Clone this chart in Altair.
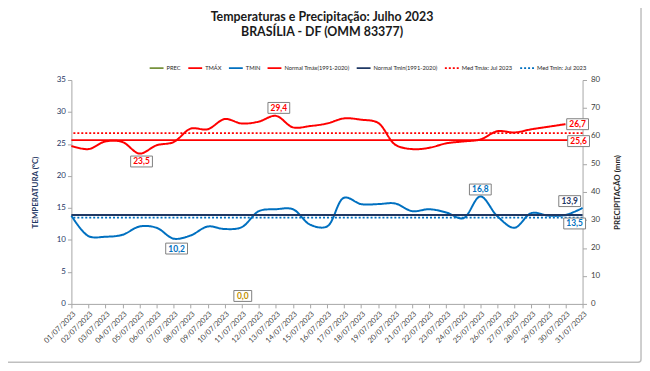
import altair as alt
import pandas as pd

dates = [f"{d:02d}/07/2023" for d in range(1, 32)]
tmax = [24.7, 24.2, 25.4, 25.3, 23.5, 24.8, 25.3, 27.4, 27.3, 28.9, 28.2, 28.5, 29.4, 27.6, 27.8, 28.2,
        29.0, 28.8, 28.3, 24.9, 24.2, 24.4, 25.1, 25.4, 25.7, 27.0, 26.8, 27.3, 27.7, 28.1, None]
tmin = [13.8, 10.6, 10.5, 10.8, 12.1, 11.9, 10.2, 10.7, 12.1, 11.7, 12.0, 14.5, 14.8, 14.8, 12.4, 12.1,
        16.6, 15.6, 15.6, 15.7, 14.5, 14.8, 14.3, 13.4, 16.8, 13.7, 11.9, 14.2, 13.8, 13.9, 15.0]
prec = [0.0] * 31
normal_tmax = 25.6
normal_tmin = 13.9
med_tmax = 26.7
med_tmin = 13.5
prec_label_day = "11/07/2023"

series_names = ["PREC", "TMÁX", "TMIN", "Normal Tmáx(1991-2020)", "Normal Tmin(1991-2020)",
                "Med Tmáx: Jul 2023", "Med Tmin: Jul 2023"]
series_colors = ["#76923c", "#ff0000", "#0070c0", "#ff0000", "#1f3864", "#ff0000", "#0070c0"]
series_dash = [[1, 0], [1, 0], [1, 0], [1, 0], [1, 0], [2, 2], [2, 2]]

FONT = "Lato"


def fmt(v):
    return f"{v:.1f}".replace(".", ",")


lines_df = pd.concat([
    pd.DataFrame({"date": dates, "value": tmax, "series": "TMÁX"}),
    pd.DataFrame({"date": dates, "value": tmin, "series": "TMIN"}),
]).dropna()
rules_df = pd.DataFrame({
    "value": [normal_tmax, normal_tmin, med_tmax, med_tmin],
    "series": ["Normal Tmáx(1991-2020)", "Normal Tmin(1991-2020)", "Med Tmáx: Jul 2023", "Med Tmin: Jul 2023"],
})
prec_df = pd.DataFrame({"date": dates, "prec": prec, "series": "PREC"})

xaxis = alt.Axis(title=None, labelAngle=-45, labelFontSize=7.5, labelColor="#404040",
                 labelFont=FONT, domainColor="#a6a6a6", tickColor="#a6a6a6", tickSize=4,
                 labelPadding=2)
xscale = alt.Scale(type="point", padding=0)


def X():
    return alt.X("date:O", sort=dates, scale=xscale, axis=xaxis)


color = alt.Color("series:N", scale=alt.Scale(domain=series_names, range=series_colors),
                  legend=alt.Legend(title=None))
dash = alt.StrokeDash("series:N", scale=alt.Scale(domain=series_names, range=series_dash),
                      legend=alt.Legend(title=None))
yleft = alt.Scale(domain=[0, 35])
yaxis_left = alt.Axis(title="TEMPERATURA (°C)", values=list(range(0, 36, 5)), grid=False,
                      titleFont=FONT, titleFontSize=8, titleFontWeight="bold", titleColor="#1f3864",
                      labelFont=FONT, labelFontSize=8, labelColor="#1f3864", domainColor="#a6a6a6",
                      tickColor="#a6a6a6", tickSize=4, titlePadding=17, labelOverlap=False)
yright = alt.Scale(domain=[0, 80])
yaxis_right = alt.Axis(title="PRECIPITAÇÃO (mm)", orient="right", values=list(range(0, 81, 10)),
                       grid=False, titleFont=FONT, titleFontSize=8, titleFontWeight="bold",
                       titleColor="#262626", titleAngle=270, labelFont=FONT, labelFontSize=8,
                       labelColor="#404040", domainColor="#a6a6a6", tickColor="#a6a6a6",
                       tickSize=4, titlePadding=22, labelPadding=4, labelOverlap=False)


def YL(field):
    return alt.Y(f"{field}:Q", scale=yleft, axis=yaxis_left)


def YR(field):
    return alt.Y(f"{field}:Q", scale=yright, axis=yaxis_right)


lines = alt.Chart(lines_df).mark_line(interpolate="catmull-rom", strokeWidth=2).encode(
    x=X(), y=YL("value"), color=color, strokeDash=dash)
rules = alt.Chart(rules_df).mark_rule(strokeWidth=1.8).encode(
    y=YL("value"), color=color, strokeDash=dash)


def label(df, txt_color, dx, dy, yfun, w=22, h=11):
    path = f"M-1,-{h / w:.3f}L1,-{h / w:.3f}L1,{h / w:.3f}L-1,{h / w:.3f}Z"
    base = alt.Chart(df).encode(x=X(), y=yfun("v"))
    box = base.mark_point(shape=path, size=w * w, fill="white", stroke="#7f7f7f", strokeWidth=1,
                          opacity=1, fillOpacity=1, xOffset=dx, yOffset=dy)
    txt = base.mark_text(font=FONT, fontSize=8.5, fontWeight="bold", color=txt_color,
                         dx=dx, dy=dy, baseline="middle", align="center").encode(text="label:N")
    return box + txt


temp_df = pd.DataFrame({"date": dates, "tmax": tmax, "tmin": tmin})
i_max_tmax = temp_df["tmax"].idxmax()
i_min_tmax = temp_df["tmax"].idxmin()
i_max_tmin = temp_df["tmin"].idxmax()
i_min_tmin = temp_df["tmin"].idxmin()


def one(date, val):
    return pd.DataFrame({"date": [date], "v": [val], "label": [fmt(val)]})


labels = [
    label(one(dates[i_min_tmax], tmax[i_min_tmax]), "#ff0000", 2, 8, YL),
    label(one(dates[i_max_tmax], tmax[i_max_tmax]), "#ff0000", 3, -8, YL),
    label(one(dates[i_min_tmin], tmin[i_min_tmin]), "#0070c0", 3, 10, YL),
    label(one(dates[i_max_tmin], tmin[i_max_tmin]), "#0070c0", 0, -7, YL),
    label(one(dates[-1], med_tmax), "#ff0000", -5, -9, YL),
    label(one(dates[-1], normal_tmax), "#ff0000", -4, 1, YL),
    label(one(dates[-1], normal_tmin), "#1f3864", -13, -14, YL),
    label(one(dates[-1], med_tmin), "#0070c0", -8, 6, YL),
]

temp_layer = alt.layer(lines, rules, *labels)

bars = alt.Chart(prec_df).mark_bar().encode(x=X(), y=YR("prec"), color=color)
prec_lab = pd.DataFrame({"date": [prec_label_day],
                         "v": [max(prec)], "label": [fmt(max(prec))]})
prec_layer = alt.layer(bars, label(prec_lab, "#bf9000", 1, -8, YR, w=18, h=11))

frame = alt.Chart(pd.DataFrame({"a": [0]})).mark_rect(
    fill=None, stroke="#bfbfbf", strokeWidth=1.5, cornerRadius=3).encode(
    x=alt.value(-71), x2=alt.value(575), y=alt.value(-77), y2=alt.value(285))

chart = alt.layer(temp_layer, prec_layer, frame).resolve_scale(y="independent").properties(
    width=516, height=226,
    title=alt.TitleParams(text=["Temperaturas e Precipitação: Julho 2023", "BRASÍLIA - DF (OMM 83377)"],
                          font=FONT, fontSize=12.5, fontWeight="bold", color="#1a1a1a",
                          anchor="middle", lineHeight=15, offset=0, dy=36, dx=-5),
    autosize=alt.AutoSizeParams(type="none"),
    padding={"left": 64, "top": 71, "right": 60, "bottom": 62},
    background="white",
).configure_view(stroke=None).configure_legend(
    orient="none", legendX=78, legendY=-20, direction="horizontal", labelFont=FONT,
    labelFontSize=5.8, labelColor="#262626", symbolType="stroke", symbolSize=196,
    symbolStrokeWidth=2, columnPadding=3, labelOffset=2, padding=0)

chart.save("out.html", embed_options={"renderer": "svg", "actions": False})
